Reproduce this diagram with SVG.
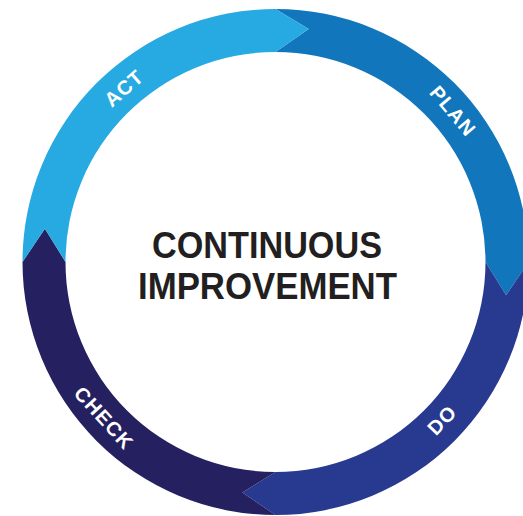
<svg xmlns="http://www.w3.org/2000/svg" width="523" height="516" viewBox="0 0 523 516">
<style>
.lbl{font-family:"Liberation Sans",Arial,sans-serif;font-weight:bold;font-size:20px;fill:#ffffff;text-anchor:middle;dominant-baseline:central;letter-spacing:1.2px}
.title{font-family:"Liberation Sans",Arial,sans-serif;font-weight:bold;font-size:36px;fill:#231F20;text-anchor:middle}
</style>
<rect width="523" height="516" fill="#ffffff"/>
<g id="plan">
<path fill="#1176BC" d="M 275.5 9 A 253 253 0 0 1 528.5 262 L 506.1 295.2 L 485.5 262 A 210 210 0 0 0 275.5 52 L 308.7 29 Z"/>
<text class="lbl" transform="translate(453 111) rotate(49.7)">PLAN</text>
</g>
<g id="do">
<path fill="#283990" d="M 528.5 262 A 253 253 0 0 1 275.5 515 L 242.3 492.6 L 275.5 472 A 210 210 0 0 0 485.5 262 L 506.1 295.2 Z"/>
<text class="lbl" transform="translate(442 420) rotate(-46.6)">DO</text>
</g>
<g id="check">
<path fill="#252060" d="M 275.5 515 A 253 253 0 0 1 22.5 262 L 44.9 228.8 L 65.5 262 A 210 210 0 0 0 275.5 472 L 242.3 492.6 Z"/>
<text class="lbl" transform="translate(104 418) rotate(47.6)">CHECK</text>
</g>
<g id="act">
<path fill="#27AAE1" d="M 22.5 262 A 253 253 0 0 1 275.5 9 L 308.7 29 L 275.5 52 A 210 210 0 0 0 65.5 262 L 44.9 228.8 Z"/>
<text class="lbl" transform="translate(124 88) rotate(-41)">ACT</text>
</g>
<g id="connectors"></g>
<g id="center">
<text class="title" x="267" y="258" textLength="230" lengthAdjust="spacingAndGlyphs">CONTINUOUS</text>
<text class="title" x="267.5" y="299" textLength="259" lengthAdjust="spacingAndGlyphs">IMPROVEMENT</text>
</g>
</svg>
